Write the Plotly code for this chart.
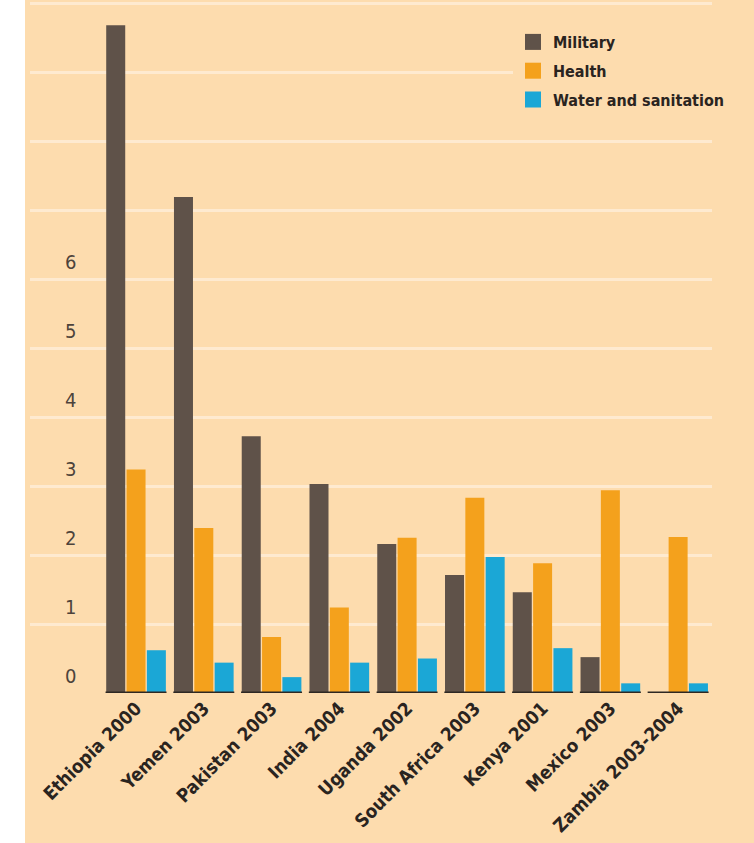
import plotly.graph_objects as go

categories = ["Ethiopia 2000", "Yemen 2003", "Pakistan 2003", "India 2004", "Uganda 2002",
              "South Africa 2003", "Kenya 2001", "Mexico 2003", "Zambia 2003-2004"]
military = [9.68, 7.19, 3.72, 3.03, 2.16, 1.71, 1.46, 0.52, 0.0]
health = [3.24, 2.39, 0.81, 1.24, 2.25, 2.83, 1.88, 2.94, 2.26]
water = [0.62, 0.44, 0.23, 0.44, 0.50, 1.97, 0.65, 0.14, 0.14]
series_names = ["Military", "Health", "Water and sanitation"]
y_tick_values = [0, 1, 2, 3, 4, 5, 6]

colors = ["#5f5249", "#f4a11c", "#1ba7d6"]
BG = "#fddcae"
GRID = "#feead0"
COND = "DejaVu Sans Condensed, DejaVu Sans, sans-serif"

fig = go.Figure()
for name, vals, col in zip(series_names, [military, health, water], colors):
    fig.add_trace(go.Bar(x=categories, y=vals, name=name, marker=dict(color=col, line=dict(width=0)),
                         showlegend=False))
    # legend proxy with larger square swatch
    fig.add_trace(go.Scatter(x=[None], y=[None], mode="markers", name=name, legendgroup=name,
                             marker=dict(symbol="square", size=16, color=col)))

W, H = 754, 843
ml, mr, mt, mb = 30, 42, 0, 150
pw = W - ml - mr

shapes = []
# white strip on the left edge
shapes.append(dict(type="rect", xref="paper", yref="paper",
                   x0=-ml / pw - 0.01, x1=(25 - ml) / pw, y0=-0.4, y1=1.1,
                   fillcolor="white", line=dict(width=0), layer="above"))
# baseline segments under each group
for i in range(len(categories)):
    shapes.append(dict(type="line", xref="x", yref="y", x0=i - 0.45, x1=i + 0.45, y0=0, y1=0,
                       line=dict(color="#2e2823", width=3), layer="above"))

annotations = []
for v in y_tick_values:
    annotations.append(dict(xref="paper", yref="y", x=(70 - ml) / pw, y=v, text=str(v),
                            showarrow=False, xanchor="center", yanchor="middle", yshift=17,
                            font=dict(family=COND, size=20, color="#4d433b")))

fig.update_layout(
    width=W, height=H,
    margin=dict(l=ml, r=mr, t=mt, b=mb),
    paper_bgcolor=BG, plot_bgcolor=BG,
    barmode="group", bargap=0.1, bargroupgap=0.065,
    xaxis=dict(type="category", range=[-1.565, 8.5], showgrid=False, zeroline=False,
               showline=False, ticks="", tickangle=-45, automargin=False,
               tickfont=dict(family=COND, size=18.5, color="#2a241f", weight="bold")),
    yaxis=dict(range=[0, 10.045], dtick=1, showgrid=True, gridcolor=GRID, gridwidth=3,
               zeroline=False, showline=False, showticklabels=False, ticks="", automargin=False),
    legend=dict(x=(513 - ml) / pw, y=1 - 25 / (H - mt - mb), xanchor="left", yanchor="top",
                bgcolor=BG, borderwidth=0, tracegroupgap=5,
                font=dict(family=COND, size=16, color="#2a241f", weight="bold"),
                itemsizing="trace"),
    shapes=shapes,
    annotations=annotations,
)

fig.write_html("out.html")
